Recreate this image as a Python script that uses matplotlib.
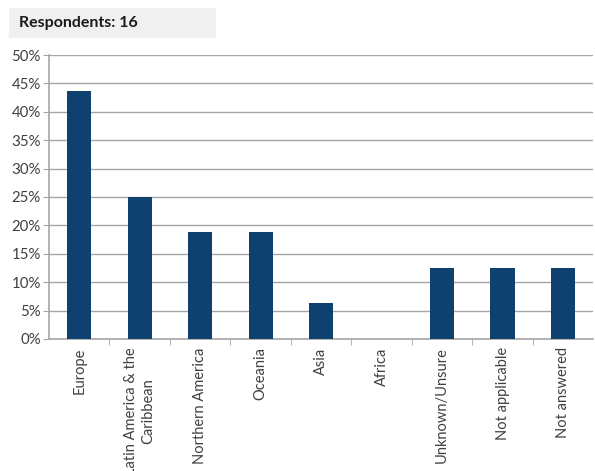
import matplotlib.pyplot as plt
from matplotlib.patches import Rectangle
from matplotlib.ticker import PercentFormatter

plt.rcParams['font.family'] = ['Lato', 'DejaVu Sans']

categories = ['Europe', 'Latin America & the\nCaribbean', 'Northern America', 'Oceania',
              'Asia', 'Africa', 'Unknown/Unsure', 'Not applicable', 'Not answered']
values = [43.75, 25.0, 18.75, 18.75, 6.25, 0.0, 12.5, 12.5, 12.5]
respondents = 16

fig = plt.figure(figsize=(5.95, 4.71), dpi=100)
ax = fig.add_axes([0.0824, 0.2803, 0.9146, 0.6029])

x = range(len(categories))
ax.bar(x, values, width=0.4, color='#0f416f', zorder=3)

ax.set_xlim(-0.5, len(categories) - 0.5)
ax.set_ylim(0, 50)
ax.set_yticks(range(0, 51, 5))
ax.yaxis.set_major_formatter(PercentFormatter(decimals=0))
ax.grid(axis='y', color='#a6a6a6', linewidth=1, zorder=0)

ax.set_xticks(list(x))
ax.set_xticklabels(categories, rotation=90, va='top', ha='center',
                   fontsize=10.5, color='#404040', linespacing=1.25)
ax.tick_params(axis='x', length=0, pad=6)
# boundary ticks between categories
ax.set_xticks([i + 0.5 for i in range(len(categories) - 1)], minor=True)
ax.tick_params(axis='x', which='minor', length=4, color='#a6a6a6', direction='out')
ax.tick_params(axis='y', length=4, color='#a6a6a6', labelsize=10.8, labelcolor='#404040', pad=2)

for s in ['top', 'right']:
    ax.spines[s].set_visible(False)
ax.spines['left'].set_color('#a6a6a6')
ax.spines['bottom'].set_color('#a6a6a6')
ax.spines['left'].set_linewidth(1.2)
ax.spines['bottom'].set_linewidth(1.2)

fig.patches.append(Rectangle((9 / 595, 1 - 38 / 471), 207 / 595, 30 / 471,
                             transform=fig.transFigure, facecolor='#f0f0f0',
                             edgecolor='none', zorder=0))
fig.text(19 / 595, 1 - 23 / 471, f'Respondents: {respondents}', fontsize=11.5,
         fontweight='bold', color='#1a1a1a', va='center', ha='left')

fig.savefig('out.png', dpi=100)
